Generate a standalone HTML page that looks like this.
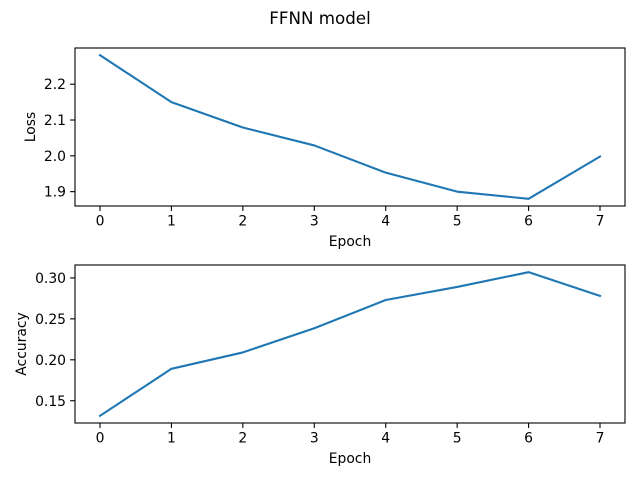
<!DOCTYPE html>
<html><head><meta charset="utf-8"><style>
html,body{margin:0;padding:0;background:#fff;}
svg{display:block;font-family:"DejaVu Sans","Liberation Sans",sans-serif;}
</style></head><body>
<svg id="chart" width="640" height="480">
<text x="320" y="24" text-anchor="middle" font-size="16.7">FFNN model</text>
</svg>
<script>
const epochs = [0,1,2,3,4,5,6,7];
const lossValues = [2.281,2.150,2.079,2.029,1.953,1.900,1.880,1.998];
const accuracyValues = [0.1316,0.189,0.209,0.2385,0.273,0.289,0.307,0.278];
const xTicks = [0,1,2,3,4,5,6,7];
const lossTicks = [1.9,2.0,2.1,2.2];
const accTicks = [0.15,0.20,0.25,0.30];

const NS='http://www.w3.org/2000/svg';
const svg=document.getElementById('chart');
function mk(tag,attrs,parent){const e=document.createElementNS(NS,tag);for(const k in attrs)e.setAttribute(k,attrs[k]);(parent||svg).appendChild(e);return e;}

function panel(name,top,bottom,values,ticks,fmt,ylabel){
  const L=75,R=625;
  const g=mk('g',{});
  
  
  const xmin=-0.35,xmax=7.35;
  const lo=Math.min(...values),hi=Math.max(...values),m=(hi-lo)*0.05;
  const ymin=lo-m,ymax=hi+m;
  const X=v=>L+(v-xmin)/(xmax-xmin)*(R-L);
  const Y=v=>bottom-(v-ymin)/(ymax-ymin)*(bottom-top);
  xTicks.forEach(t=>{
    const x=X(t);
    mk('line',{x1:x,x2:x,y1:bottom,y2:bottom+4.9,stroke:'#000','stroke-width':1.1},g);
    const tx=mk('text',{x:x,y:bottom+19.5,'text-anchor':'middle','font-size':13.9},g);
    tx.textContent=t;
    
    
  });
  ticks.forEach(t=>{
    const y=Y(t);
    mk('line',{x1:L-4.9,x2:L,y1:y,y2:y,stroke:'#000','stroke-width':1.1},g);
    const tx=mk('text',{x:L-9,y:y+5,'text-anchor':'end','font-size':13.9},g);
    tx.textContent=fmt(t);
    
    
  });
  const pts=values.map((v,i)=>X(epochs[i]).toFixed(2)+','+Y(v).toFixed(2)).join(' ');
  const line=mk('polyline',{points:pts,fill:'none',stroke:'#1f77b4','stroke-width':2.1,'stroke-linejoin':'round','stroke-linecap':'square'},g);
  
  
  mk('rect',{x:L,y:top,width:R-L,height:bottom-top,fill:'none',stroke:'#000','stroke-width':1.1},g);
  const xl=mk('text',{x:(L+R)/2,y:bottom+40,'text-anchor':'middle','font-size':13.9},g);
  xl.textContent='Epoch';
  
  
  const yx=name==='loss'?35:26;
  const yl=mk('text',{x:yx,y:(top+bottom)/2,'text-anchor':'middle','font-size':13.9,transform:`rotate(-90 ${yx} ${(top+bottom)/2})`},g);
  yl.textContent=ylabel;
  
  
}
panel('loss',48,206,lossValues,lossTicks,t=>t.toFixed(1),'Loss');
panel('accuracy',265,423,accuracyValues,accTicks,t=>t.toFixed(2),'Accuracy');
</script>
</body></html>
